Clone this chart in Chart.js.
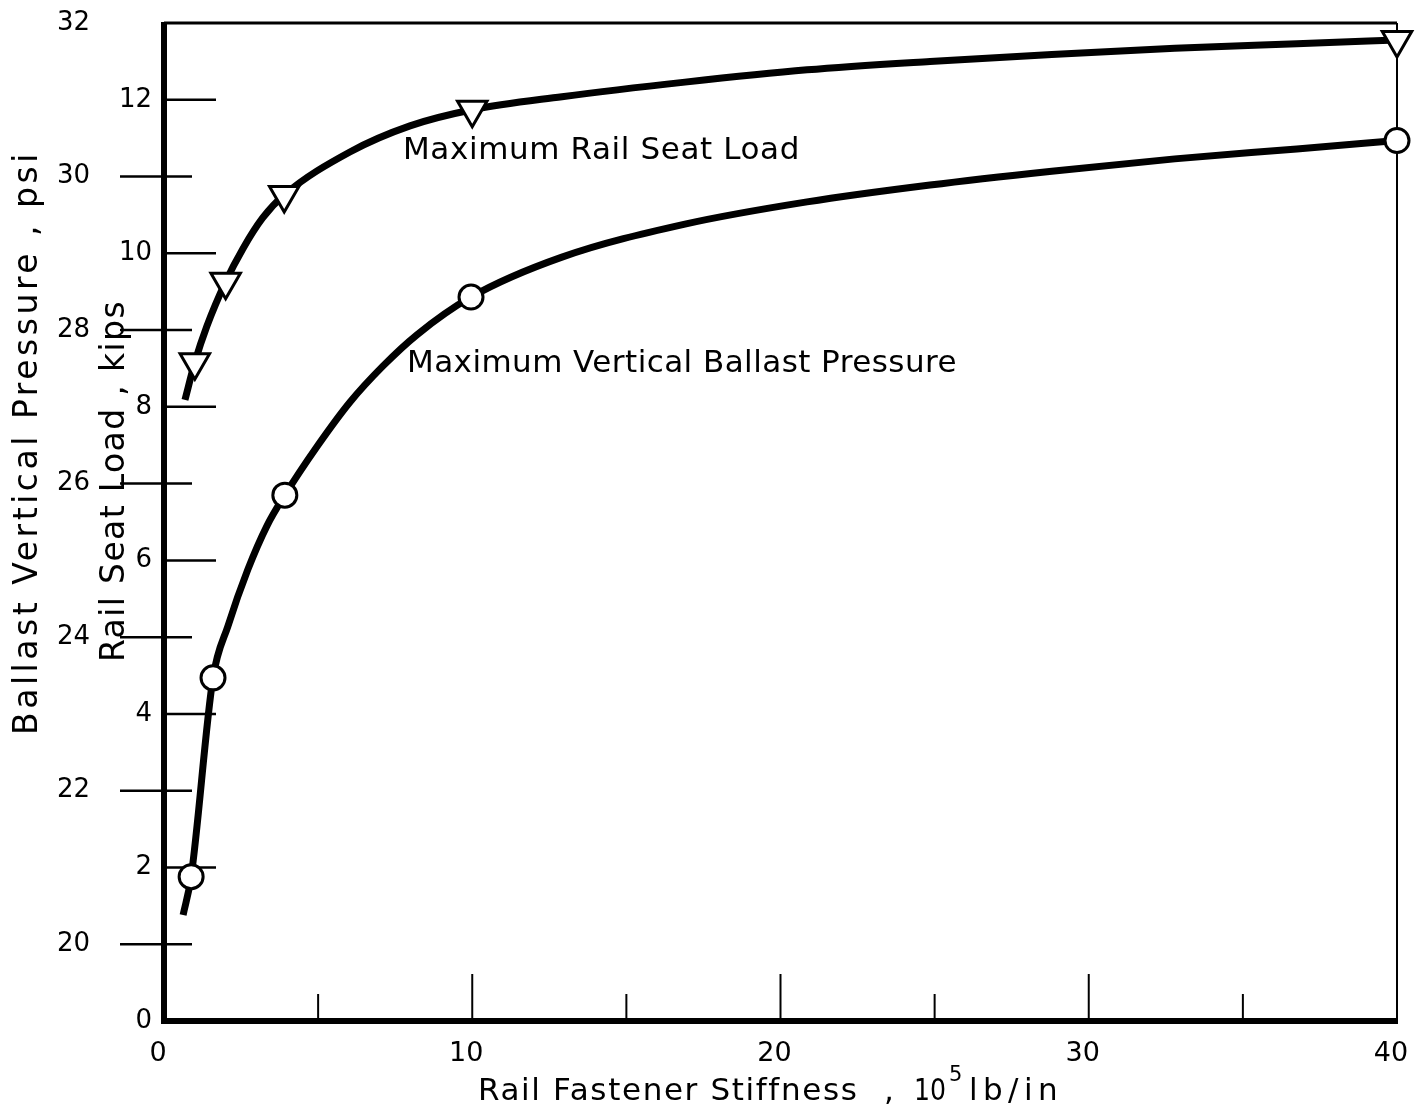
<!DOCTYPE html>
<html>
<head>
<meta charset="utf-8">
<script src="https://cdn.jsdelivr.net/npm/chart.js@4.4.1/dist/chart.umd.min.js"></script>
<style>
  html, body { margin: 0; padding: 0; background: #fff; }
  canvas { display: block; }
</style>
</head>
<body>
<canvas id="chart" width="1428" height="1116"></canvas>
<script>
// DADOS
const railSeatMarkX = [1, 2, 3.9, 10, 40];
const railSeatMarkY = [8.58, 9.63, 10.76, 11.87, 12.78]; // kips
const railSeatCurveX = [0.68, 1, 1.39, 2, 2.56, 3.2, 3.9, 6.03, 7.98, 10, 12.91, 16.9, 20.86, 24.85, 28.8, 32.79, 36.75, 40];
const railSeatCurveY = [8.09, 8.58, 9.05, 9.63, 10.06, 10.46, 10.76, 11.32, 11.66, 11.87, 12.04, 12.23, 12.39, 12.5, 12.59, 12.67, 12.73, 12.78];

const ballastMarkX = [0.88, 1.59, 3.92, 9.96, 40];
const ballastMarkY = [20.88, 23.47, 25.85, 28.43, 30.47]; // psi
const ballastCurveX = [0.62, 0.88, 1.59, 2.08, 2.72, 3.34, 3.92, 4.96, 6.03, 7.1, 8.21, 9.96, 12.91, 16.9, 20.86, 24.85, 28.8, 32.79, 36.75, 40];
const ballastCurveY = [20.38, 20.88, 23.47, 24.15, 24.88, 25.45, 25.85, 26.48, 27.06, 27.53, 27.94, 28.43, 28.95, 29.38, 29.67, 29.89, 30.07, 30.23, 30.36, 30.47];

// eixos
const xLabels = [0, 10, 20, 30, 40];
const xMajorTicks = [10, 20, 30];
const xMinorTicks = [5, 15, 25, 35];
const kipsTicks = [2, 4, 6, 8, 10, 12];
const kipsLabels = [0, 2, 4, 6, 8, 10, 12];
const psiTicks = [20, 22, 24, 26, 28, 30];
const psiLabels = [20, 22, 24, 26, 28, 30, 32];

const FONT = '"DejaVu Sans", sans-serif';

function toPoints(xs, ys) {
  return xs.map((x, i) => ({ x, y: ys[i] }));
}

// texto ajustado a uma largura (comprime ou espaça)
function fitText(ctx, str, x, y, width) {
  ctx.letterSpacing = "0px";
  const w = ctx.measureText(str).width;
  ctx.save();
  ctx.translate(x, y);
  if (w > width) {
    ctx.scale(width / w, 1);
  } else {
    ctx.letterSpacing = ((width - w) / str.length) + "px";
  }
  ctx.fillText(str, 0, 0);
  ctx.restore();
  ctx.letterSpacing = "0px";
}

function line(ctx, x1, y1, x2, y2, w) {
  ctx.lineWidth = w;
  ctx.beginPath();
  ctx.moveTo(x1, y1);
  ctx.lineTo(x2, y2);
  ctx.stroke();
}

// moldura, ticks e textos
const frameAxes = {
  id: "frameAxes",
  beforeDatasetsDraw(chart) {
    const { ctx, chartArea: a, scales } = chart;
    const x = scales.x, k = scales.kips, p = scales.psi;
    ctx.save();
    ctx.strokeStyle = "#000";
    ctx.fillStyle = "#000";
    ctx.lineCap = "butt";

    // moldura
    line(ctx, a.left, a.top, a.right, a.top, 3);
    line(ctx, a.right, a.top, a.right, a.bottom, 2);
    line(ctx, a.left - 3, a.bottom, a.right + 1, a.bottom, 6);
    line(ctx, a.left, a.top - 1, a.left, a.bottom + 3, 6);

    // ticks x (para dentro)
    xMajorTicks.forEach((v) => {
      const px = x.getPixelForValue(v);
      line(ctx, px, a.bottom, px, a.bottom - 47, 2);
    });
    xMinorTicks.forEach((v) => {
      const px = x.getPixelForValue(v);
      line(ctx, px, a.bottom, px, a.bottom - 27, 2);
    });

    // ticks kips (para dentro)
    kipsTicks.forEach((v) => {
      const py = k.getPixelForValue(v);
      line(ctx, a.left, py, a.left + 52, py, 2.5);
    });
    // ticks psi (atravessam o eixo)
    psiTicks.forEach((v) => {
      const py = p.getPixelForValue(v);
      line(ctx, a.left - 44, py, a.left + 28, py, 2.5);
    });

    // rótulos
    ctx.textBaseline = "middle";
    ctx.textAlign = "right";
    ctx.font = `26px ${FONT}`;
    kipsLabels.forEach((v) => {
      ctx.fillText(String(v), a.left - 12, k.getPixelForValue(v));
    });
    psiLabels.forEach((v) => {
      ctx.fillText(String(v), a.left - 74, p.getPixelForValue(v));
    });

    ctx.textAlign = "center";
    ctx.font = `27px ${FONT}`;
    xLabels.forEach((v) => {
      ctx.fillText(String(v), x.getPixelForValue(v) - 6, a.bottom + 33);
    });

    // títulos
    ctx.textAlign = "left";
    ctx.textBaseline = "alphabetic";
    ctx.font = `31px ${FONT}`;
    fitText(ctx, "Rail Fastener Stiffness", 478, 1100, 380);
    ctx.fillText(",", 884, 1100);
    fitText(ctx, "10", 914, 1100, 32);
    ctx.font = `21px ${FONT}`;
    ctx.fillText("5", 949, 1081);
    ctx.font = `31px ${FONT}`;
    fitText(ctx, "lb/in", 969, 1100, 94);

    ctx.font = `33px ${FONT}`;
    ctx.save();
    ctx.translate(37, 735);
    ctx.rotate(-Math.PI / 2);
    fitText(ctx, "Ballast Vertical Pressure , psi", 0, 0, 585);
    ctx.restore();

    ctx.save();
    ctx.translate(124, 662);
    ctx.rotate(-Math.PI / 2);
    fitText(ctx, "Rail Seat Load , kips", 0, 0, 362);
    ctx.restore();

    // legendas das curvas
    ctx.font = `31px ${FONT}`;
    fitText(ctx, "Maximum Rail Seat Load", 403, 159, 397);
    fitText(ctx, "Maximum Vertical Ballast Pressure", 407, 372, 550);

    ctx.restore();
  },
};

const curveStyle = {
  borderColor: "#000",
  borderWidth: 7,
  pointRadius: 0,
  cubicInterpolationMode: "monotone",
  fill: false,
  order: 2,
};

const markStyle = {
  showLine: false,
  pointBackgroundColor: "#fff",
  pointBorderColor: "#000",
  pointBorderWidth: 3,
  clip: false,
  order: 0,
};

new Chart(document.getElementById("chart"), {
  type: "line",
  data: {
    datasets: [
      { ...curveStyle, label: "Rail seat curve", yAxisID: "kips", data: toPoints(railSeatCurveX, railSeatCurveY) },
      { ...curveStyle, label: "Ballast curve", yAxisID: "psi", data: toPoints(ballastCurveX, ballastCurveY) },
      {
        ...markStyle,
        label: "Maximum Rail Seat Load",
        yAxisID: "kips",
        pointStyle: "triangle",
        pointRotation: 180,
        pointRadius: 17,
        data: toPoints(railSeatMarkX, railSeatMarkY),
      },
      {
        ...markStyle,
        label: "Maximum Vertical Ballast Pressure",
        yAxisID: "psi",
        pointStyle: "circle",
        pointRadius: 12,
        data: toPoints(ballastMarkX, ballastMarkY),
      },
    ],
  },
  options: {
    responsive: false,
    animation: false,
    events: [],
    layout: { padding: { left: 164, top: 23, right: 31, bottom: 95 } },
    plugins: { legend: { display: false }, tooltip: { enabled: false } },
    scales: {
      x: { type: "linear", min: 0, max: 40, display: false },
      kips: { type: "linear", position: "left", min: 0, max: 13, display: false },
      psi: { type: "linear", position: "left", min: 19, max: 32, display: false },
    },
  },
  plugins: [frameAxes],
});
</script>
</body>
</html>
